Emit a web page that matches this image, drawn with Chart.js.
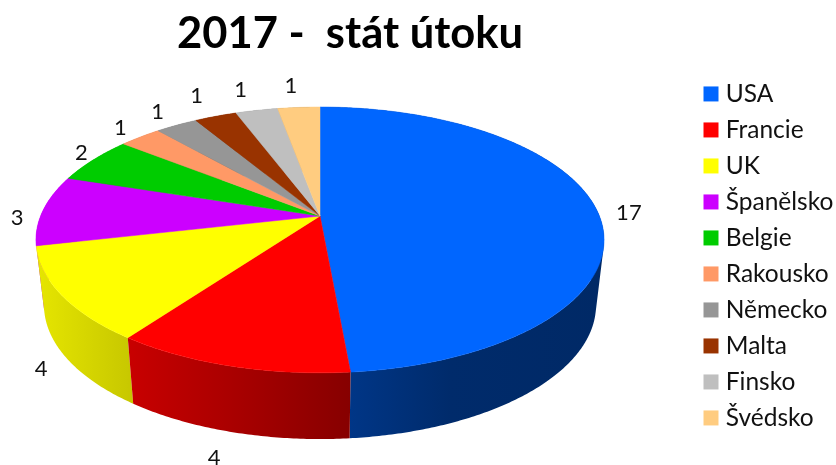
<!DOCTYPE html>
<html><head><meta charset="utf-8">
<style>html,body{margin:0;padding:0;background:#fff}canvas{display:block}</style>
<script src="https://cdn.jsdelivr.net/npm/chart.js@4"></script>
</head><body><canvas id="c" width="836" height="465"></canvas>
<script>
const categories = ['USA','Francie','UK','Španělsko','Belgie','Rakousko','Německo','Malta','Finsko','Švédsko'];
const values = [17,4,4,3,2,1,1,1,1,1];
const colors = ['#0066FF','#FF0000','#FFFF00','#CC00FF','#00CC00','#FF9966','#969696','#993300','#BFBFBF','#FFCC80'];
const labelOffsets = [[32,3],[-16,92],[-20,74],[-26,8],[-12,-7],[-20,-9],[-19,-13],[-19,-20],[-16,-20],[-8,-21]];
const titleText = '2017 -  stát útoku';
const FONT = 'Lato, Carlito, sans-serif';

// perspective projection of the pie disc
const K = 0.18;
const TOP = {x:320, y:216, a:279.4, b:128.6};
const BOTTOM = {x:320, y:281, a:271.5, b:129.6};
// shading of the side wall along x
const SHADE_X = [36, 604];
const SHADE = [[0,.9],[.17,.78],[.55,.53],[.73,.42],[1,.40]];

function project(p, t){
  const u = Math.sin(t), v = -Math.cos(t), w = 1 - K*v;
  return [p.x + p.a*u/w, p.y + p.b*v/w];
}
function mult(hex, f){
  const n = parseInt(hex.slice(1),16);
  return `rgb(${Math.round((n>>16&255)*f)},${Math.round((n>>8&255)*f)},${Math.round((n&255)*f)})`;
}
function addQuad(ctx, pts){
  let area = 0;
  pts.forEach((p,i)=>{const q=pts[(i+1)%4]; area += p[0]*q[1]-q[0]*p[1];});
  const o = area < 0 ? pts.slice().reverse() : pts;
  ctx.moveTo(o[0][0],o[0][1]);
  for(let i=1;i<4;i++) ctx.lineTo(o[i][0],o[i][1]);
  ctx.closePath();
}
const pie3d = {
  id:'pie3d',
  beforeDatasetsDraw(chart){
    const ctx = chart.ctx, arcs = chart.getDatasetMeta(0).data;
    const spans = arcs.map(a=>{
      const p = a.getProps(['startAngle','endAngle'],true);
      return [p.startAngle+Math.PI/2, p.endAngle+Math.PI/2];
    });
    ctx.save();
    // side walls, back to front
    const dist = i => Math.abs((spans[i][0]+spans[i][1])/2 - Math.PI);
    arcs.map((a,i)=>i).sort((p,q)=>dist(q)-dist(p)).forEach(i=>{
      const [s,e] = spans[i], n = Math.max(4,Math.ceil((e-s)/0.01));
      const g = ctx.createLinearGradient(SHADE_X[0],0,SHADE_X[1],0);
      SHADE.forEach(([o,f])=>g.addColorStop(o,mult(colors[i],f)));
      ctx.beginPath();
      for(let k=0;k<n;k++){
        const t0=s+(e-s)*k/n, t1=s+(e-s)*(k+1)/n;
        addQuad(ctx,[project(TOP,t0),project(TOP,t1),project(BOTTOM,t1),project(BOTTOM,t0)]);
      }
      ctx.fillStyle=g; ctx.fill('nonzero');
    });
    // top faces
    arcs.forEach((a,i)=>{
      const [s,e] = spans[i], n = Math.max(4,Math.ceil((e-s)/0.01));
      ctx.beginPath(); ctx.moveTo(TOP.x,TOP.y);
      for(let k=0;k<=n;k++){const q=project(TOP,s+(e-s)*k/n); ctx.lineTo(q[0],q[1]);}
      ctx.closePath();
      ctx.fillStyle=colors[i]; ctx.strokeStyle=colors[i]; ctx.lineWidth=.5;
      ctx.fill(); ctx.stroke();
    });
    // value labels
    ctx.fillStyle='#111'; ctx.font='22px '+FONT; ctx.textAlign='center'; ctx.textBaseline='middle';
    arcs.forEach((a,i)=>{
      const q = project(TOP,(spans[i][0]+spans[i][1])/2);
      ctx.fillText(String(values[i]), q[0]+labelOffsets[i][0], q[1]+labelOffsets[i][1]);
    });
    ctx.restore();
    return false;
  }
};
new Chart(document.getElementById('c'),{
  type:'pie',
  data:{labels:categories,datasets:[{data:values,backgroundColor:colors,borderColor:colors,borderWidth:10}]},
  plugins:[pie3d],
  options:{
    responsive:false,animation:false,
    layout:{padding:{left:3}},
    plugins:{
      tooltip:{enabled:false},
      title:{display:true,text:titleText,fullSize:false,color:'#000',
        font:{family:FONT,size:43.5,weight:'bold'},padding:{top:8,bottom:1}},
      legend:{position:'right',align:'start',maxWidth:139,
        title:{display:true,text:'',font:{size:1},padding:{top:69,bottom:0}},
        labels:{boxWidth:5,boxHeight:5,padding:11.5,color:'#111',font:{family:FONT,size:24.5,lineHeight:1}}}
    }
  }
});
</script></body></html>
